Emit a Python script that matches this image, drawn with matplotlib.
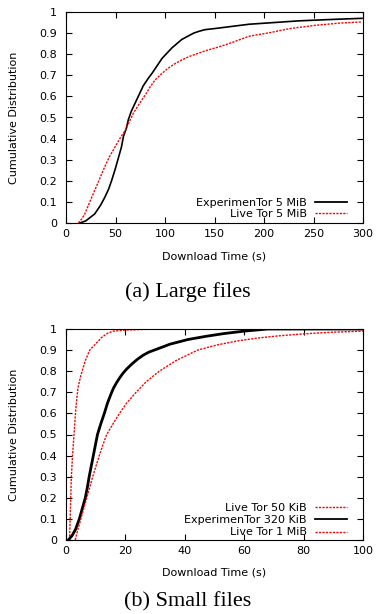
import matplotlib
matplotlib.use("Agg")
import matplotlib.pyplot as plt

# ---- data: top panel (large files) ----
exp5_x = [14, 20, 29, 35, 39, 43, 46, 50, 53, 56, 58, 61, 63, 66, 70, 74, 78, 83, 87, 92, 97, 102, 107, 112, 117, 123, 129, 134, 140, 151, 168, 185, 210, 235, 270, 299]
exp5_y = [0.0, 0.01, 0.043, 0.085, 0.12, 0.16, 0.2, 0.26, 0.31, 0.36, 0.41, 0.45, 0.49, 0.53, 0.57, 0.61, 0.65, 0.685, 0.71, 0.745, 0.78, 0.805, 0.83, 0.85, 0.87, 0.885, 0.90, 0.908, 0.916, 0.922, 0.932, 0.942, 0.95, 0.958, 0.965, 0.97]
live5_x = [12.5, 16, 19, 24, 29, 34, 39, 44, 49.5, 55, 60, 64, 68, 74, 80, 85, 90, 96, 103, 110, 117, 125, 134, 142, 151, 160, 168, 176, 185, 193, 201, 210, 218, 226, 235, 244, 252, 264, 275, 287, 299]
live5_y = [0.0, 0.02, 0.043, 0.1, 0.154, 0.21, 0.265, 0.315, 0.36, 0.405, 0.44, 0.48, 0.52, 0.565, 0.606, 0.645, 0.678, 0.705, 0.733, 0.755, 0.773, 0.79, 0.805, 0.818, 0.83, 0.843, 0.856, 0.87, 0.885, 0.892, 0.898, 0.906, 0.914, 0.921, 0.927, 0.932, 0.937, 0.942, 0.947, 0.95, 0.953]

# ---- data: bottom panel (small files) ----
live50_x = [1.2, 1.5, 1.8, 2.2, 2.7, 3.3, 4.0, 5.0, 6.5, 8.0, 10.0, 12.0, 14.0, 16.0, 20.0, 30.0]
live50_y = [0.0, 0.15, 0.3, 0.4, 0.5, 0.62, 0.72, 0.78, 0.85, 0.9, 0.93, 0.96, 0.98, 0.99, 0.995, 1.0]
exp320_x = [0.8, 2.0, 3.2, 4.5, 5.5, 6.5, 7.2, 7.8, 8.5, 9.2, 9.9, 10.6, 11.7, 12.9, 14.0, 15.1, 16.0, 17.0, 18.0, 19.0, 20.2, 22.0, 24.0, 26.0, 28.0, 30.3, 35.0, 41.0, 47.0, 53.0, 60.0, 68.0, 100.0]
exp320_y = [0.0, 0.02, 0.05, 0.1, 0.15, 0.2, 0.25, 0.3, 0.35, 0.4, 0.45, 0.5, 0.55, 0.6, 0.65, 0.69, 0.72, 0.745, 0.767, 0.787, 0.807, 0.832, 0.856, 0.876, 0.891, 0.903, 0.928, 0.95, 0.965, 0.978, 0.99, 1.0, 1.0]
live1_x = [3.1, 4.0, 5.0, 6.0, 7.0, 8.0, 9.0, 10.1, 11.2, 12.4, 13.7, 15.8, 18.0, 20.5, 23.6, 27.0, 31.4, 37.0, 44.3, 51.0, 58.4, 65.0, 72.0, 80.0, 90.0, 100.0]
live1_y = [0.0, 0.05, 0.1, 0.15, 0.2, 0.25, 0.3, 0.35, 0.4, 0.45, 0.5, 0.55, 0.6, 0.65, 0.7, 0.75, 0.8, 0.85, 0.9, 0.925, 0.945, 0.958, 0.968, 0.977, 0.985, 0.99]

yticks = [0, 0.1, 0.2, 0.3, 0.4, 0.5, 0.6, 0.7, 0.8, 0.9, 1]
ytick_labels = ["0", "0.1", "0.2", "0.3", "0.4", "0.5", "0.6", "0.7", "0.8", "0.9", "1"]
top_xticks = [0, 50, 100, 150, 200, 250, 300]
bot_xticks = [0, 20, 40, 60, 80, 100]

plt.rcParams['font.family'] = ['DejaVu Sans']
fig = plt.figure(figsize=(3.76, 6.14), dpi=100)
W, H = 376, 614
ax1 = fig.add_axes([66 / W, 1 - 223 / H, 297 / W, 211 / H])
ax2 = fig.add_axes([66 / W, 1 - 540 / H, 297 / W, 211 / H])

red_ls = (0, (1.6, 0.9))

ax1.plot(exp5_x, exp5_y, color='black', lw=1.2, label='ExperimenTor 5 MiB')
ax1.plot(live5_x, live5_y, color='red', lw=1.0, ls=red_ls, label='Live Tor 5 MiB')
ax1.set_xlim(0, 300)
ax1.set_xticks(top_xticks)

ax2.plot(live50_x, live50_y, color='red', lw=1.0, ls=red_ls, label='Live Tor 50 KiB')
ax2.plot(exp320_x, exp320_y, color='black', lw=2.0, label='ExperimenTor 320 KiB')
ax2.plot(live1_x, live1_y, color='red', lw=1.0, ls=red_ls, label='Live Tor 1 MiB')
ax2.set_xlim(0, 100)
ax2.set_xticks(bot_xticks)

for ax, xly, lsp, legy in ((ax1, -0.161, 0.05, 0.021), (ax2, -0.152, 0.22, 0.012)):
    ax.set_ylim(0, 1)
    ax.set_yticks(yticks)
    ax.set_yticklabels(ytick_labels)
    ax.tick_params(direction='in', top=True, right=True, labelsize=8, length=4, width=0.8)
    ax.tick_params(axis='y', pad=6.5)
    ax.tick_params(axis='x', pad=4.5)
    ax.set_xlabel('Download Time (s)', fontsize=8)
    ax.xaxis.set_label_coords(0.5, xly)
    ax.xaxis.label.set_verticalalignment('center')
    ax.set_ylabel('Cumulative Distribution', fontsize=8)
    ax.yaxis.set_label_coords(-0.175, 0.5)
    ax.yaxis.label.set_verticalalignment('center')
    for s in ax.spines.values():
        s.set_linewidth(0.8)
    leg = ax.legend(loc='lower right', bbox_to_anchor=(0.946, legy), frameon=False,
                    markerfirst=False, alignment='right', fontsize=8,
                    handlelength=2.9, handletextpad=0.7, labelspacing=lsp,
                    borderpad=0, borderaxespad=0)
    for ln in leg.get_lines():
        if ln.get_color() == 'black':
            ln.set_linewidth(1.3)

fig.text(188 / W, 1 - 292 / H, '(a) Large files', ha='center', va='center',
         family=['Liberation Serif'], fontsize=16)
fig.text(188 / W, 1 - 602 / H, '(b) Small files', ha='center', va='center',
         family=['Liberation Serif'], fontsize=16)

fig.savefig('out.png', dpi=100)
